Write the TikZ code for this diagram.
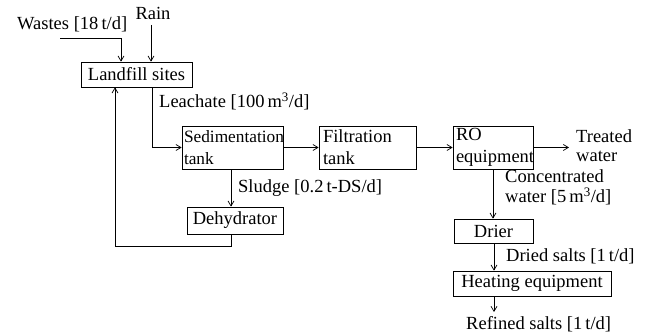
\documentclass[tikz,border=0pt]{standalone}
\usepackage{fontspec}
\setmainfont{Liberation Serif}
\usetikzlibrary{arrows.meta,calc}
\begin{document}
\begin{tikzpicture}[x=1pt,y=-1pt,
  every node/.style={font=\fontsize{18.5}{18}\selectfont},
  box/.style={draw,line width=0.8pt,inner sep=0pt,align=center},
  lbox/.style={draw,line width=0.8pt,inner xsep=4pt,inner ysep=0pt,align=left,
    font=\fontsize{18.5}{22}\selectfont},
  lab/.style={inner sep=0pt,anchor=base west,align=left},
  arr/.style={line width=0.7pt,-{Straight Barb[length=5pt,width=6pt]}},
  ln/.style={line width=0.7pt}]
\useasboundingbox (0,0) rectangle (649,336);
% boxes
\node[box,minimum width=111pt,minimum height=25pt] (land) at (136.5,74.5) {Landfill sites};
\node[lbox,inner xsep=2pt,text width=97pt,minimum height=43pt,font=\fontsize{17.3}{22}\selectfont] (sed) at (232.5,147.5) {Sedimentation\\tank};
\node[lbox,text width=89pt,minimum height=43pt] (filt) at (367.5,147.5) {Filtration\\tank};
\node[lbox,inner xsep=3pt,text width=74pt,minimum height=43pt] (ro) at (493,147.5) {RO\\equipment};
\node[box,minimum width=96pt,minimum height=27pt] (dehyd) at (235,220.5) {Dehydrator};
\node[box,minimum width=79pt,minimum height=24pt] (drier) at (493.5,231) {Drier};
\node[box,minimum width=158pt,minimum height=25pt] (heat) at (532,283.5) {Heating equipment};
% labels
\node[lab] (wastes) at (17,30) {Wastes [18\,t/d]};
\node[inner sep=0pt,anchor=base] (rain) at (153,20) {Rain};
\node[lab] (leach) at (159,108) {Leachate [100\,m\textsuperscript{3}/d]};
\node[lab] (sludge) at (238,193) {Sludge [0.2\,t-DS/d]};
\node[lab,font=\fontsize{18.5}{19}\selectfont] (treated) at (576,162) {Treated\\water};
\node[lab,font=\fontsize{18.5}{20}\selectfont] (conc) at (505,203) {Concentrated\\water [5\,m\textsuperscript{3}/d]};
\node[lab] (dried) at (506,262) {Dried salts [1\,t/d]};
\node[lab] (refined) at (466,330) {Refined salts [1\,t/d]};
% helper coordinates
\coordinate (w0) at (60,38);
\coordinate (wj) at (121,38);
\coordinate (r0) at (151,25);
\coordinate (lx) at (152,0);
\coordinate (sx) at (231,0);
\coordinate (rx) at (115,246);
\coordinate (tw) at (569,147.5);
\coordinate (rf) at (494,312);
% connectors
\draw[arr] (w0) -- (wj) -- (wj |- land.north);
\draw[arr] (r0) -- (r0 |- land.north);
\draw[arr] (land.south -| lx) |- (sed.west);
\draw[arr] (sed.east) -- (filt.west);
\draw[arr] (filt.east) -- (ro.west);
\draw[arr] (ro.east) -- (tw);
\draw[arr] (ro.south) -- (ro.south |- drier.north);
\draw[arr] (drier.south -| rf) -- (rf |- heat.north);
\draw[arr] (heat.south -| rf) -- (rf);
\draw[arr] (sed.south -| sx) -- (dehyd.north -| sx);
\draw[arr] (dehyd.south -| sx) |- (rx) -- (land.south -| rx);
\end{tikzpicture}
\end{document}
